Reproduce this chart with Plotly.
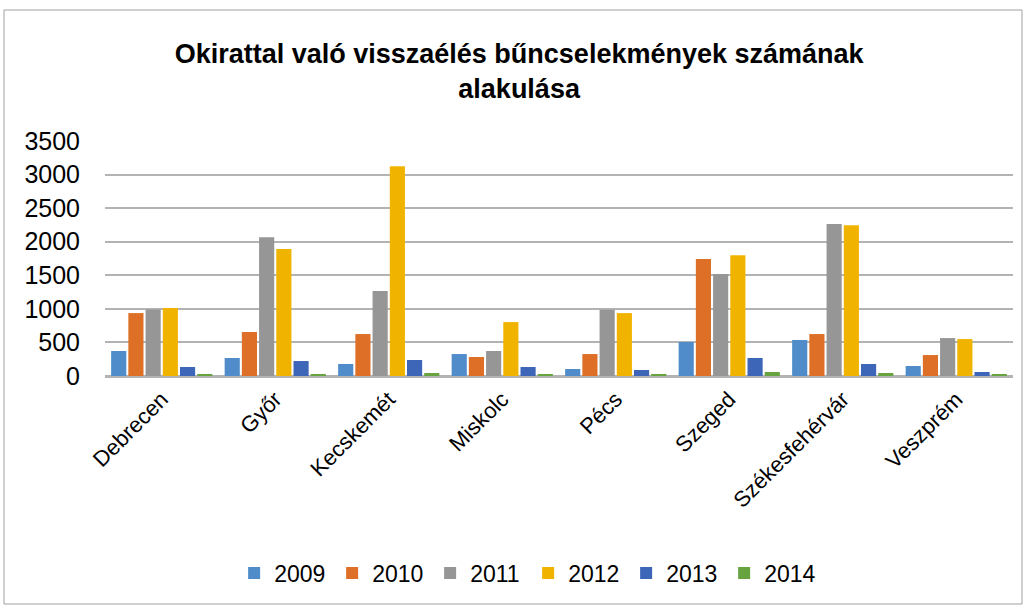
import plotly.graph_objects as go

cities = ["Debrecen", "Győr", "Kecskemét", "Miskolc", "Pécs", "Szeged", "Székesfehérvár", "Veszprém"]
years = ["2009", "2010", "2011", "2012", "2013", "2014"]
v2009 = [372, 268, 179, 327, 104, 506, 536, 149]
v2010 = [937, 655, 625, 283, 327, 1741, 625, 312]
v2011 = [992, 2068, 1265, 372, 987, 1518, 2262, 565]
v2012 = [1012, 1890, 3125, 803, 937, 1800, 2247, 550]
v2013 = [134, 223, 238, 134, 89, 268, 179, 60]
v2014 = [15, 30, 45, 30, 15, 60, 45, 30]
series = [v2009, v2010, v2011, v2012, v2013, v2014]
colors = ["#4f8cc9", "#de6f26", "#969696", "#f0b400", "#3d66b8", "#67a33f"]

fig = go.Figure()
for name, vals, col in zip(years, series, colors):
    fig.add_trace(go.Bar(x=cities, y=vals, name=name, marker=dict(color=col, line=dict(width=0))))

FONT = "Liberation Sans"
fig.update_layout(
    width=1028, height=608,
    margin=dict(l=105, r=15, t=141, b=232),
    paper_bgcolor="white", plot_bgcolor="white",
    barmode="group", bargap=0.09, bargroupgap=0.12,
    font=dict(family=FONT, size=22, color="#000000"),
    title=dict(text="<b>Okirattal való visszaélés bűncselekmények számának<br>alakulása</b>",
               x=0.505, xanchor="center", y=0.896, yanchor="middle",
               font=dict(family=FONT, size=27, color="#000000")),
    legend=dict(orientation="h", x=0.466, xanchor="center", y=-0.838, yanchor="middle",
                font=dict(family=FONT, size=23), itemwidth=30, traceorder="normal",
                entrywidth=53, entrywidthmode="pixels"),
    showlegend=True,
)
fig.update_yaxes(range=[0, 3500], dtick=500, showgrid=True, gridcolor="#b3b3b3", gridwidth=1.5,
                 zeroline=True, zerolinecolor="#b3b3b3", zerolinewidth=1.5,
                 showline=False, ticks="", ticklabelstandoff=24, tickfont=dict(size=25))
fig.update_xaxes(tickangle=-45, showline=True, linecolor="#b3b3b3", linewidth=1.5, ticks="",
                 tickfont=dict(size=22))
fig.add_shape(type="rect", xref="paper", yref="paper",
              x0=(4 - 105) / 908, x1=(1022 - 105) / 908,
              y0=(376 - 604) / 235, y1=(376 - 10) / 235,
              line=dict(color="#a0a0a0", width=1), fillcolor="rgba(0,0,0,0)", layer="below")

fig.write_html("out.html", config={"displayModeBar": False},
               post_script="document.body.style.margin='0';document.body.style.overflow='hidden';")
